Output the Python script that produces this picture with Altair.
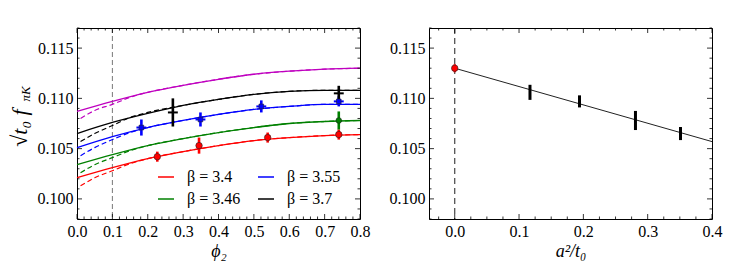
import altair as alt
import pandas as pd

# ---------------- data ----------------
# left panel: fit curves vs phi_2
phi_grid = [0.0, 0.1, 0.2, 0.3, 0.4, 0.5, 0.6, 0.7, 0.8]
fit_cont = [0.1087, 0.1097, 0.1106, 0.1113, 0.1119, 0.1124, 0.1127, 0.1129, 0.1130]
fit_b340 = [0.1021, 0.1031, 0.1040, 0.1047, 0.1053, 0.1058, 0.1061, 0.1063, 0.1064]
fit_b346 = [0.1034, 0.1044, 0.1053, 0.1060, 0.1066, 0.1071, 0.1075, 0.1077, 0.1078]
fit_b355 = [0.1051, 0.1062, 0.1071, 0.1078, 0.1084, 0.1089, 0.1092, 0.1094, 0.1094]
fit_b370 = [0.1065, 0.1076, 0.1085, 0.1093, 0.1099, 0.1104, 0.1107, 0.1108, 0.1108]

phi_dash = [0.01, 0.05, 0.1, 0.15, 0.2, 0.3, 0.4, 0.5, 0.6, 0.7, 0.8]
dash_cont = [0.1080, 0.1088, 0.1094, 0.1101, 0.1106, 0.1113, 0.1119, 0.1124, 0.1127, 0.1129, 0.1130]
dash_b340 = [0.1013, 0.1021, 0.1028, 0.1035, 0.1040, 0.1047, 0.1053, 0.1058, 0.1061, 0.1063, 0.1064]
dash_b346 = [0.1026, 0.1034, 0.1041, 0.1048, 0.1053, 0.1060, 0.1066, 0.1071, 0.1075, 0.1077, 0.1078]
dash_b355 = [0.1043, 0.1051, 0.1059, 0.1066, 0.1071, 0.1078, 0.1084, 0.1089, 0.1092, 0.1094, 0.1094]
dash_b370 = [0.1057, 0.1065, 0.1073, 0.1081, 0.1086, 0.1093, 0.1099, 0.1104, 0.1107, 0.1108, 0.1108]

labels = ["β = 3.4", "β = 3.46", "β = 3.55", "β = 3.7"]
colors = ["#ff0000", "#008000", "#0000ff", "#000000"]
cont_color = "#bf00bf"

# left panel: lattice points
pts_b340_phi = [0.227, 0.345, 0.539, 0.740]
pts_b340_val = [0.1042, 0.1053, 0.1061, 0.1064]
pts_b340_err = [0.0005, 0.0008, 0.0005, 0.0005]
pts_b340_xerr = [0.004, 0.004, 0.004, 0.004]

pts_b346_phi = [0.740]
pts_b346_val = [0.1078]
pts_b346_err = [0.0009]
pts_b346_xerr = [0.004]

pts_b355_phi = [0.182, 0.349, 0.521, 0.740]
pts_b355_val = [0.1071, 0.1079, 0.1092, 0.1097]
pts_b355_err = [0.0008, 0.0007, 0.0006, 0.0005]
pts_b355_xerr = [0.014, 0.014, 0.014, 0.014]

pts_b370_phi = [0.271, 0.740]
pts_b370_val = [0.1086, 0.1105]
pts_b370_err = [0.0014, 0.00075]
pts_b370_xerr = [0.014, 0.014]

# right panel: continuum extrapolation
a2_vals = [0.117, 0.194, 0.281, 0.351]
a2_fpk = [0.1106, 0.1097, 0.1078, 0.1065]
a2_err = [0.00075, 0.0006, 0.00095, 0.00065]
cont_a2 = [0.0]
cont_val = [0.1130]
cont_err = [0.0004]
line_a2 = [0.0, 0.4]
line_val = [0.1130, 0.1057]

# tick values
y_major = [0.100, 0.105, 0.110, 0.115]
y_minor = [round(0.098 + 0.001 * i, 3) for i in range(20) if round(0.098 + 0.001 * i, 3) not in y_major]
xl_major = [0.0, 0.1, 0.2, 0.3, 0.4, 0.5, 0.6, 0.7, 0.8]
xl_minor = [round(0.02 * i, 2) for i in range(41) if i % 5 != 0]
xr_major = [0.0, 0.1, 0.2, 0.3, 0.4]
xr_minor = [round(-0.025 + 0.025 * i, 3) for i in range(18) if i % 4 != 1]

# ---------------- chart ----------------
W, H = 283, 191
SERIF = "'Liberation Serif', 'Times New Roman', serif"
MAJ, MIN = 5, 2.5

y_scale = alt.Scale(domain=[0.098, 0.117], nice=False, zero=False, padding=0)
xl_scale = alt.Scale(domain=[0.0, 0.8], nice=False, zero=False, padding=0)
xr_scale = alt.Scale(domain=[-0.04, 0.4], nice=False, zero=False, padding=0)

y_axis = alt.Axis(values=y_major, format=".3f", title=None, labelFlush=False)
xl_axis = alt.Axis(values=xl_major, format=".1f", title="ϕ₂", titleFontStyle="italic", labelFlush=False)
xr_axis = alt.Axis(values=xr_major, format=".1f", title="a²/t₀", titleFontStyle="italic", labelFlush=False)


def Y(f):
    return alt.Y(f, type="quantitative", scale=y_scale, axis=y_axis)


def XL(f):
    return alt.X(f, type="quantitative", scale=xl_scale, axis=xl_axis)


def XR(f):
    return alt.X(f, type="quantitative", scale=xr_scale, axis=xr_axis)


def tick_layers(XF, xmaj, xmin):
    out = []
    for vals, ln in ((xmaj, MAJ), (xmin, MIN)):
        d = pd.DataFrame({"tv": vals})
        out.append(alt.Chart(d).mark_rule(color="black", strokeWidth=0.8).encode(
            x=XF("tv"), y=alt.value(H), y2=alt.value(H - ln)))
        out.append(alt.Chart(d).mark_rule(color="black", strokeWidth=0.8).encode(
            x=XF("tv"), y=alt.value(0), y2=alt.value(ln)))
    for vals, ln in ((y_major, MAJ), (y_minor, MIN)):
        d = pd.DataFrame({"tv": vals})
        out.append(alt.Chart(d).mark_rule(color="black", strokeWidth=0.8).encode(
            y=Y("tv"), x=alt.value(0), x2=alt.value(ln)))
        out.append(alt.Chart(d).mark_rule(color="black", strokeWidth=0.8).encode(
            y=Y("tv"), x=alt.value(W), x2=alt.value(W - ln)))
    return out


col_of = dict(zip(labels, colors))
# legend fills column-wise: [3.4, 3.46] in first column, [3.55, 3.7] in second
color_scale = alt.Scale(domain=labels, range=colors)

solid_rows, dash_rows = [], []
for lab, vals in zip(labels, [fit_b340, fit_b346, fit_b355, fit_b370]):
    for p, v in zip(phi_grid, vals):
        solid_rows.append({"phi": p, "val": v, "beta": lab})
for lab, vals in zip(labels, [dash_b340, dash_b346, dash_b355, dash_b370]):
    for p, v in zip(phi_dash, vals):
        dash_rows.append({"phi": p, "val": v, "beta": lab, "col": col_of[lab]})
solid_df = pd.DataFrame(solid_rows)
dash_df = pd.DataFrame(dash_rows)
cont_df = pd.DataFrame({"phi": phi_grid, "val": fit_cont})
cont_dash_df = pd.DataFrame({"phi": phi_dash, "val": dash_cont})

pt_rows = []
for lab, xs, ys, es, xe in [
    (labels[0], pts_b340_phi, pts_b340_val, pts_b340_err, pts_b340_xerr),
    (labels[1], pts_b346_phi, pts_b346_val, pts_b346_err, pts_b346_xerr),
    (labels[2], pts_b355_phi, pts_b355_val, pts_b355_err, pts_b355_xerr),
    (labels[3], pts_b370_phi, pts_b370_val, pts_b370_err, pts_b370_xerr),
]:
    for x, y, e, ex in zip(xs, ys, es, xe):
        pt_rows.append({"phi": x, "val": y, "lo": y - e, "hi": y + e,
                        "xlo": x - ex, "xhi": x + ex, "beta": lab, "col": col_of[lab]})
pts_df = pd.DataFrame(pt_rows)

vline_l = alt.Chart(pd.DataFrame({"phi": [0.1]})).mark_rule(
    color="#555555", strokeDash=[5, 3], strokeWidth=0.8).encode(x=XL("phi"))

solid = alt.Chart(solid_df).mark_line(strokeWidth=1.3, interpolate="monotone").encode(
    x=XL("phi"), y=Y("val"),
    color=alt.Color("beta:N", scale=color_scale, legend=alt.Legend(
        orient="none", legendX=80, legendY=140, columns=2, title=None,
        symbolType="stroke", symbolSize=256, symbolStrokeWidth=1.5,
        labelFont=SERIF, labelFontSize=16, labelOffset=12,
        columnPadding=14, rowPadding=5, labelColor="black")))
dashed = alt.Chart(dash_df).mark_line(strokeWidth=1.2, strokeDash=[5, 3], interpolate="monotone").encode(
    x=XL("phi"), y=Y("val"), detail="beta:N", color=alt.Color("col:N", scale=None))
cont_line = alt.Chart(cont_df).mark_line(strokeWidth=1.3, color=cont_color, interpolate="monotone").encode(
    x=XL("phi"), y=Y("val"))
cont_dash = alt.Chart(cont_dash_df).mark_line(strokeWidth=1.2, color=cont_color, strokeDash=[5, 3],
                                              interpolate="monotone").encode(x=XL("phi"), y=Y("val"))

ebar_v = alt.Chart(pts_df).mark_rule(strokeWidth=2.6).encode(
    x=XL("phi"), y=Y("lo"), y2="hi", color=alt.Color("col:N", scale=None))
ebar_h = alt.Chart(pts_df).mark_rule(strokeWidth=2.0).encode(
    x=XL("xlo"), x2="xhi", y=Y("val"), color=alt.Color("col:N", scale=None))
markers = alt.Chart(pts_df).transform_filter(
    alt.datum.beta != labels[3]).mark_point(filled=True, opacity=1, stroke="#222222", strokeWidth=0.6).encode(
    x=XL("phi"), y=Y("val"),
    fill=alt.Fill("col:N", scale=None),
    shape=alt.Shape("beta:N", scale=alt.Scale(domain=labels[:3], range=["circle", "circle", "square"]), legend=None),
    size=alt.Size("beta:N", scale=alt.Scale(domain=labels[:3], range=[42, 22, 64]), legend=None))

ytitle1 = alt.Chart(pd.DataFrame({"t": ["√t₀ f"]})).mark_text(
    angle=270, font=SERIF, fontSize=22, fontStyle="italic", align="center", baseline="middle",
    color="black").encode(x=alt.value(-57), y=alt.value(100), text="t:N")
ytitle2 = alt.Chart(pd.DataFrame({"t": ["πK"]})).mark_text(
    angle=270, font=SERIF, fontSize=13, fontStyle="italic", align="center", baseline="middle",
    color="black").encode(x=alt.value(-51), y=alt.value(66), text="t:N")

left = alt.layer(vline_l, cont_dash, dashed, cont_line, solid, ebar_h, ebar_v, markers,
                 *tick_layers(XL, xl_major, xl_minor), ytitle1, ytitle2).properties(width=W, height=H)

# right panel
pts_r = pd.DataFrame({"a2": a2_vals, "val": a2_fpk,
                      "lo": [v - e for v, e in zip(a2_fpk, a2_err)],
                      "hi": [v + e for v, e in zip(a2_fpk, a2_err)]})
cont_r = pd.DataFrame({"a2": cont_a2, "val": cont_val,
                       "lo": [v - e for v, e in zip(cont_val, cont_err)],
                       "hi": [v + e for v, e in zip(cont_val, cont_err)]})
line_r = pd.DataFrame({"a2": line_a2, "val": line_val})

vline_r = alt.Chart(pd.DataFrame({"a2": [0.0]})).mark_rule(
    color="#444444", strokeDash=[6, 4], strokeWidth=1.2).encode(x=XR("a2"))
fit_r = alt.Chart(line_r).mark_line(color="#222222", strokeWidth=1.0).encode(x=XR("a2"), y=Y("val"))
ebar_r = alt.Chart(pts_r).mark_rule(color="black", strokeWidth=3).encode(x=XR("a2"), y=Y("lo"), y2="hi")
ebar_c = alt.Chart(cont_r).mark_rule(color="#ff0000", strokeWidth=2.5).encode(x=XR("a2"), y=Y("lo"), y2="hi")
pt_c = alt.Chart(cont_r).mark_point(filled=True, opacity=1, color="#ff0000", stroke="#222222",
                                    strokeWidth=0.6, size=42, shape="circle").encode(x=XR("a2"), y=Y("val"))

right = alt.layer(vline_r, fit_r, ebar_r, ebar_c, pt_c,
                  *tick_layers(XR, xr_major, xr_minor)).properties(width=W, height=H)

chart = alt.hconcat(left, right, spacing=17).resolve_scale(
    x="independent", y="independent").properties(
    padding={"left": 0, "top": 18, "right": 5, "bottom": 0}
).configure_view(stroke="black", strokeWidth=1).configure_axis(
    labelFont=SERIF, labelFontSize=16, labelColor="black",
    titleFont=SERIF, titleFontSize=18, titleFontWeight="normal", titleColor="black",
    domain=False, ticks=False, grid=False, labelPadding=4, titlePadding=3)

chart.save("out.html", embed_options={"renderer": "svg", "actions": False})
